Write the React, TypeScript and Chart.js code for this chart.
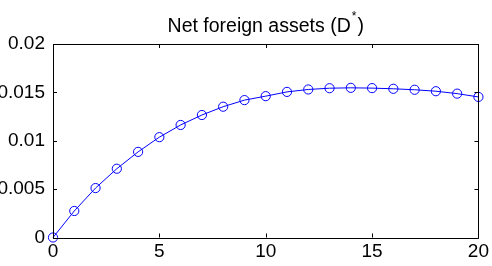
import React, { useEffect, useRef } from "react";
import { Chart, registerables } from "chart.js";

Chart.register(...registerables);

const periods: number[] = [0,1,2,3,4,5,6,7,8,9,10,11,12,13,14,15,16,17,18,19,20];
const netForeignAssets: number[] = [
  0, 0.00274, 0.00511, 0.00711, 0.00885, 0.01037, 0.01163, 0.01266, 0.01352, 0.0142,
  0.01461, 0.01505, 0.0153, 0.01543, 0.01547, 0.01544, 0.01537, 0.01527, 0.01512, 0.01487, 0.01453,
];
const xTicks: number[] = [0, 5, 10, 15, 20];
const yTicks: number[] = [0, 0.005, 0.01, 0.015, 0.02];
const yTickLabels: string[] = ["0", "0.005", "0.01", "0.015", "0.02"];
const titleMain = "Net foreign assets (D";
const titleSup = "*";
const titleEnd = ")";

const FONT = "Liberation Sans, Arial, Helvetica, sans-serif";

const framePlugin = {
  id: "matlabFrame",
  afterDraw(chart: any) {
    const { ctx, chartArea } = chart;
    const { left, right, top, bottom } = chartArea;
    const xs = chart.scales.x;
    const ys = chart.scales.y;
    ctx.save();
    ctx.strokeStyle = "#000";
    ctx.lineWidth = 1;
    ctx.beginPath();
    ctx.rect(Math.round(left) + 0.5, Math.round(top) + 0.5, Math.round(right - left), Math.round(bottom - top));
    ctx.stroke();
    const tl = 4;
    ctx.beginPath();
    xTicks.forEach((v) => {
      const px = Math.round(xs.getPixelForValue(v)) + 0.5;
      ctx.moveTo(px, bottom);
      ctx.lineTo(px, bottom - tl);
      ctx.moveTo(px, top);
      ctx.lineTo(px, top + tl);
    });
    yTicks.forEach((v) => {
      const py = Math.round(ys.getPixelForValue(v)) + 0.5;
      ctx.moveTo(left, py);
      ctx.lineTo(left + tl, py);
      ctx.moveTo(right, py);
      ctx.lineTo(right - tl, py);
    });
    ctx.stroke();

    // title with superscript
    ctx.fillStyle = "#000";
    ctx.textBaseline = "alphabetic";
    ctx.textAlign = "left";
    ctx.font = `19.5px ${FONT}`;
    const w1 = ctx.measureText(titleMain).width;
    ctx.font = `12px ${FONT}`;
    const w2 = ctx.measureText(titleSup).width + 2;
    ctx.font = `19.5px ${FONT}`;
    const w3 = ctx.measureText(titleEnd).width;
    const total = w1 + w2 + w3;
    const cx = (left + right) / 2;
    let x = cx - total / 2;
    const base = 32;
    ctx.fillText(titleMain, x, base);
    x += w1;
    ctx.font = `12px ${FONT}`;
    ctx.fillText(titleSup, x + 1, base - 12);
    x += w2;
    ctx.font = `19.5px ${FONT}`;
    ctx.fillText(titleEnd, x, base);
    ctx.restore();
  },
};

export default function App() {
  const ref = useRef<HTMLCanvasElement | null>(null);
  useEffect(() => {
    document.body.style.margin = "0";
    const canvas = ref.current;
    if (!canvas) return;
    const chart = new Chart(canvas, {
      type: "line",
      data: {
        labels: periods,
        datasets: [
          {
            data: periods.map((p, i) => ({ x: p, y: netForeignAssets[i] })),
            borderColor: "#0000ff",
            borderWidth: 1,
            pointStyle: "circle",
            pointRadius: 4.6,
            pointBorderWidth: 1,
            pointBorderColor: "#0000ff",
            pointBackgroundColor: "rgba(0,0,0,0)",
            fill: false,
            tension: 0,
            clip: false,
          } as any,
        ],
      },
      plugins: [framePlugin],
      options: {
        animation: false,
        responsive: false,
        maintainAspectRatio: false,
        devicePixelRatio: 1,
        layout: { padding: { top: 44, right: 13, left: 0, bottom: 0 } },
        plugins: {
          legend: { display: false },
          tooltip: { enabled: false },
          title: { display: false },
        },
        scales: {
          x: {
            type: "linear",
            min: 0,
            max: 20,
            afterBuildTicks: (s: any) => {
              s.ticks = xTicks.map((v) => ({ value: v }));
            },
            afterFit: (s: any) => {
              s.height = 28.5;
            },
            grid: { display: false, drawTicks: false },
            border: { display: false },
            ticks: {
              color: "#000",
              font: { family: FONT, size: 19 },
              padding: 3,
              maxRotation: 0,
              autoSkip: false,
              callback: (v: any) => String(v),
            },
          },
          y: {
            type: "linear",
            min: 0,
            max: 0.02,
            afterBuildTicks: (s: any) => {
              s.ticks = yTicks.map((v) => ({ value: v }));
            },
            afterFit: (s: any) => {
              s.width = 53;
            },
            grid: { display: false, drawTicks: false },
            border: { display: false },
            ticks: {
              color: "#000",
              font: { family: FONT, size: 19 },
              padding: 8,
              autoSkip: false,
              callback: (v: any) => {
                const i = yTicks.findIndex((t) => Math.abs(t - v) < 1e-9);
                return i >= 0 ? yTickLabels[i] : "";
              },
            },
          },
        },
      },
    });
    return () => chart.destroy();
  }, []);
  return (
    <div style={{ position: "relative", width: 492, height: 266, background: "#fff" }}>
      <canvas ref={ref} width={492} height={266} style={{ width: 492, height: 266, display: "block" }} />
    </div>
  );
}
